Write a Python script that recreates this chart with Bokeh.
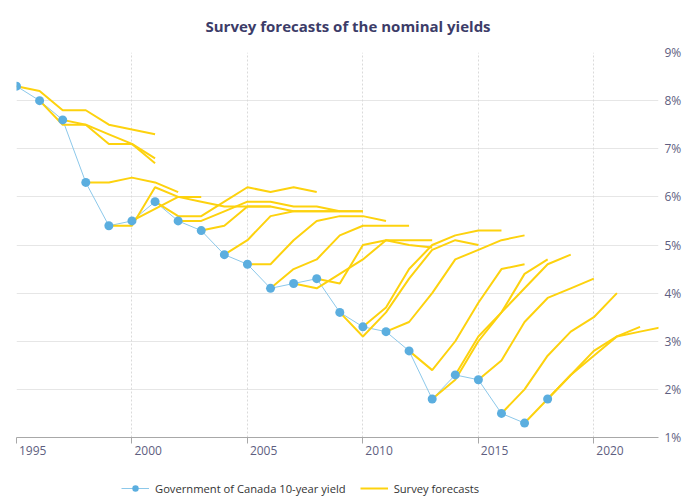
from bokeh.plotting import figure
from bokeh.layouts import column
from bokeh.models import (Range1d, LinearAxis, FixedTicker, Legend, LegendItem,
                          PrintfTickFormatter, CustomJSTickFormatter, Grid, Title)
from bokeh.embed import file_html
from bokeh.resources import INLINE

# ---------------- data ----------------
years = list(range(1995, 2019))
goc_10y = [8.3, 8.0, 7.6, 6.3, 5.4, 5.5, 5.9, 5.5, 5.3, 4.8, 4.6, 4.1,
           4.2, 4.3, 3.6, 3.3, 3.2, 2.8, 1.8, 2.3, 2.2, 1.5, 1.3, 1.8]

# survey forecasts: each starts at its survey year, one value per year
fc_1995 = [8.3, 8.2, 7.8, 7.8, 7.5, 7.4, 7.3]
fc_1996 = [8.0, 7.5, 7.5, 7.3, 7.1, 6.8]
fc_1997 = [7.6, 7.5, 7.1, 7.1, 6.7]
fc_1998 = [6.3, 6.3, 6.4, 6.3, 6.1]
fc_1999 = [5.4, 5.4, 6.2, 6.0, 6.0]
fc_2000 = [5.5, 5.75, 6.0, 5.9, 5.8, 5.8, 5.8]
fc_2001 = [5.9, 5.6, 5.6, 5.9, 6.2, 6.1, 6.2, 6.1]
fc_2002 = [5.5, 5.5, 5.7, 5.9, 5.9, 5.8, 5.8, 5.7]
fc_2003 = [5.3, 5.4, 5.8, 5.8, 5.7, 5.7, 5.7, 5.7]
fc_2004 = [4.8, 5.1, 5.6, 5.7, 5.7, 5.7, 5.7]
fc_2005 = [4.6, 4.6, 5.1, 5.5, 5.6, 5.6, 5.5]
fc_2006 = [4.1, 4.5, 4.7, 5.2, 5.4, 5.4, 5.4]
fc_2007 = [4.2, 4.1, 4.4, 4.7, 5.1, 5.1, 5.1]
fc_2008 = [4.3, 4.2, 5.0, 5.1, 5.0, 4.95]
fc_2009 = [3.6, 3.1, 3.6, 4.3, 4.9, 5.1, 5.0]
fc_2010 = [3.3, 3.7, 4.5, 5.0, 5.2, 5.3, 5.3]
fc_2011 = [3.2, 3.4, 4.0, 4.7, 4.9, 5.1, 5.2]
fc_2012 = [2.8, 2.4, 3.0, 3.8, 4.5, 4.6]
fc_2013 = [1.8, 2.2, 3.0, 3.6, 4.4, 4.7]
fc_2014 = [2.3, 3.1, 3.6, 4.1, 4.6, 4.8]
fc_2015 = [2.2, 2.6, 3.4, 3.9, 4.1, 4.3]
fc_2016 = [1.5, 2.0, 2.7, 3.2, 3.5, 4.0]
fc_2017 = [1.3, 1.8, 2.3, 2.8, 3.1, 3.3]
fc_2018 = [1.8, 2.3, 2.7, 3.1, 3.2, 3.3]

forecast_start = list(range(1995, 2019))
forecast_series = [fc_1995, fc_1996, fc_1997, fc_1998, fc_1999, fc_2000, fc_2001,
                   fc_2002, fc_2003, fc_2004, fc_2005, fc_2006, fc_2007, fc_2008,
                   fc_2009, fc_2010, fc_2011, fc_2012, fc_2013, fc_2014, fc_2015,
                   fc_2016, fc_2017, fc_2018]

x_ticks = [1995, 2000, 2005, 2010, 2015, 2020]
y_ticks = [1, 2, 3, 4, 5, 6, 7, 8, 9]

# ---------------- style ----------------
FONT = "Open Sans"
YELLOW = "#FDD20E"
BLUE_LINE = "#8CC8EA"
BLUE_DOT = "#5BAEDF"
LABEL_COLOR = "#5E5E80"
LABEL_SHIFT = 0.7  # tick labels sit just right of their tick

p = figure(width=700, height=468, output_backend="svg", toolbar_location=None,
           x_range=Range1d(1995, 2022.8), y_range=Range1d(1, 9),
           x_axis_location=None, y_axis_location=None,
           min_border_left=16, min_border_right=42, min_border_top=52, min_border_bottom=31)
p.outline_line_color = None
p.grid.visible = False

p.title = Title(text="Survey forecasts of the nominal yields", align="left", vertical_align="top",
                text_font=FONT, text_font_size="15px", text_font_style="bold",
                text_color="#3C3C68", offset=189, standoff=30)

p.add_layout(Grid(dimension=1, ticker=FixedTicker(ticks=y_ticks),
                  grid_line_color="#E6E6E6", grid_line_width=1))
p.add_layout(Grid(dimension=0, ticker=FixedTicker(ticks=x_ticks),
                  grid_line_color="#DADADA", grid_line_width=1, grid_line_dash="2 2"))

yaxis = LinearAxis(ticker=FixedTicker(ticks=y_ticks), formatter=PrintfTickFormatter(format="%d%%"),
                   axis_line_color=None, major_tick_line_color=None, minor_tick_line_color=None,
                   major_tick_in=0, major_tick_out=0, minor_tick_in=0, minor_tick_out=0,
                   major_label_standoff=6, major_label_text_font=FONT,
                   major_label_text_font_size="12px", major_label_text_color=LABEL_COLOR)
p.add_layout(yaxis, "right")

xaxis = LinearAxis(ticker=FixedTicker(ticks=[t + LABEL_SHIFT for t in x_ticks], minor_ticks=x_ticks),
                   formatter=CustomJSTickFormatter(code="return Math.round(tick - %s).toString()" % LABEL_SHIFT),
                   axis_line_color="#A8A8A8", axis_line_width=1,
                   major_tick_line_color=None, major_tick_in=0, major_tick_out=0,
                   minor_tick_line_color="#A8A8A8", minor_tick_in=0, minor_tick_out=6,
                   major_label_standoff=2, major_label_text_font=FONT,
                   major_label_text_font_size="12px", major_label_text_color=LABEL_COLOR)
p.add_layout(xaxis, "below")

bl = p.line(years, goc_10y, line_color=BLUE_LINE, line_width=1)

fc_xs = [list(range(s, s + len(v))) for s, v in zip(forecast_start, forecast_series)]
fr = p.multi_line(xs=fc_xs, ys=forecast_series, line_color=YELLOW, line_width=2)

bc = p.scatter(years, goc_10y, size=9, fill_color=BLUE_DOT, line_color=None)

# ---------------- legend strip below the chart ----------------
# the strip's ranges keep the series themselves out of view; only the legend shows
lf = figure(width=700, height=35, output_backend="svg", toolbar_location=None,
            x_range=Range1d(0, 1), y_range=Range1d(0, 1),
            x_axis_location=None, y_axis_location=None,
            min_border_left=0, min_border_right=0, min_border_top=0, min_border_bottom=0)
lf.outline_line_color = None
lf.grid.visible = False
lg_line = lf.line(years, goc_10y, line_color=BLUE_LINE, line_width=1)
lg_dot = lf.scatter(years, goc_10y, size=9, fill_color=BLUE_DOT, line_color=None)
lg_fc = lf.multi_line(xs=fc_xs, ys=forecast_series, line_color=YELLOW, line_width=2)

legend = Legend(items=[LegendItem(label="Government of Canada 10-year yield", renderers=[lg_line, lg_dot]),
                       LegendItem(label="Survey forecasts", renderers=[lg_fc])],
                orientation="horizontal", location=(105, 7),
                border_line_color=None, background_fill_alpha=0,
                label_text_font=FONT, label_text_font_size="11.2px", label_text_color="#333333",
                glyph_width=28, glyph_height=16, label_height=16, label_standoff=6, spacing=14,
                padding=0, margin=0)
lf.add_layout(legend)

layout = column(p, lf, spacing=0)
open("out.html", "w").write(file_html(layout, INLINE))
